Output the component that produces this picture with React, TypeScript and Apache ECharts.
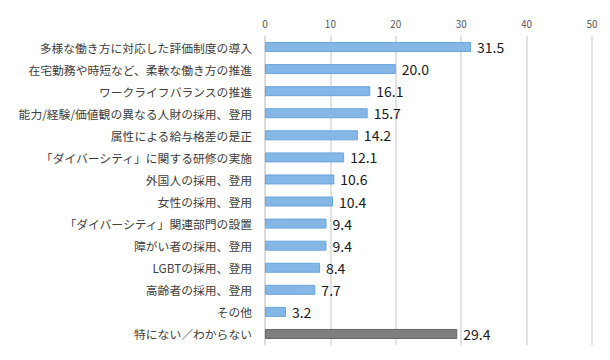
import React, { useEffect, useRef } from "react";
import * as echarts from "echarts";

const categories = [
  "多様な働き方に対応した評価制度の導入",
  "在宅勤務や時短など、柔軟な働き方の推進",
  "ワークライフバランスの推進",
  "能力/経験/価値観の異なる人財の採用、登用",
  "属性による給与格差の是正",
  "「ダイバーシティ」に関する研修の実施",
  "外国人の採用、登用",
  "女性の採用、登用",
  "「ダイバーシティ」関連部門の設置",
  "障がい者の採用、登用",
  "LGBTの採用、登用",
  "高齢者の採用、登用",
  "その他",
  "特にない／わからない",
];
const values = [31.5, 20.0, 16.1, 15.7, 14.2, 12.1, 10.6, 10.4, 9.4, 9.4, 8.4, 7.7, 3.2, 29.4];
const xTicks = [0, 10, 20, 30, 40, 50];

export default function App() {
  const ref = useRef<HTMLDivElement>(null);
  useEffect(() => {
    if (!ref.current) return;
    const chart = echarts.init(ref.current, undefined, { renderer: "svg" });
    const font = "'Noto Sans CJK JP', 'Noto Sans', sans-serif";
    chart.setOption({
      animation: false,
      grid: { left: 265, right: 18, top: 36, bottom: 15, containLabel: false },
      xAxis: {
        type: "value",
        position: "top",
        min: xTicks[0],
        max: xTicks[xTicks.length - 1],
        interval: 10,
        axisLine: { show: false },
        axisTick: { show: false },
        axisLabel: { color: "#595959", fontSize: 10, fontFamily: font, margin: 8 },
        splitLine: { show: true, lineStyle: { color: "#d9d9d9", width: 1.5 } },
      },
      yAxis: {
        type: "category",
        inverse: true,
        data: categories,
        axisLine: { show: true, lineStyle: { color: "#d9d9d9", width: 1.5 } },
        axisTick: { show: false },
        axisLabel: { color: "#404040", fontSize: 11.8, fontFamily: font, margin: 13 },
      },
      series: [
        {
          type: "bar",
          barWidth: 10,
          data: values.map((v, i) => ({
            value: v,
            itemStyle:
              i === values.length - 1
                ? { color: "#7f7f7f", borderColor: "#666666", borderWidth: 1 }
                : { color: "#85b7e6", borderColor: "#6aa5dd", borderWidth: 1 },
          })),
          label: {
            show: true,
            position: "right",
            distance: 6,
            color: "#1a1a1a",
            fontSize: 14,
            fontFamily: font,
            formatter: (p: any) => Number(p.value).toFixed(1),
          },
        },
      ],
    });
    return () => chart.dispose();
  }, []);
  return <div ref={ref} style={{ width: 610, height: 360, position: "absolute", left: 0, top: 0, background: "#fff" }} />;
}
